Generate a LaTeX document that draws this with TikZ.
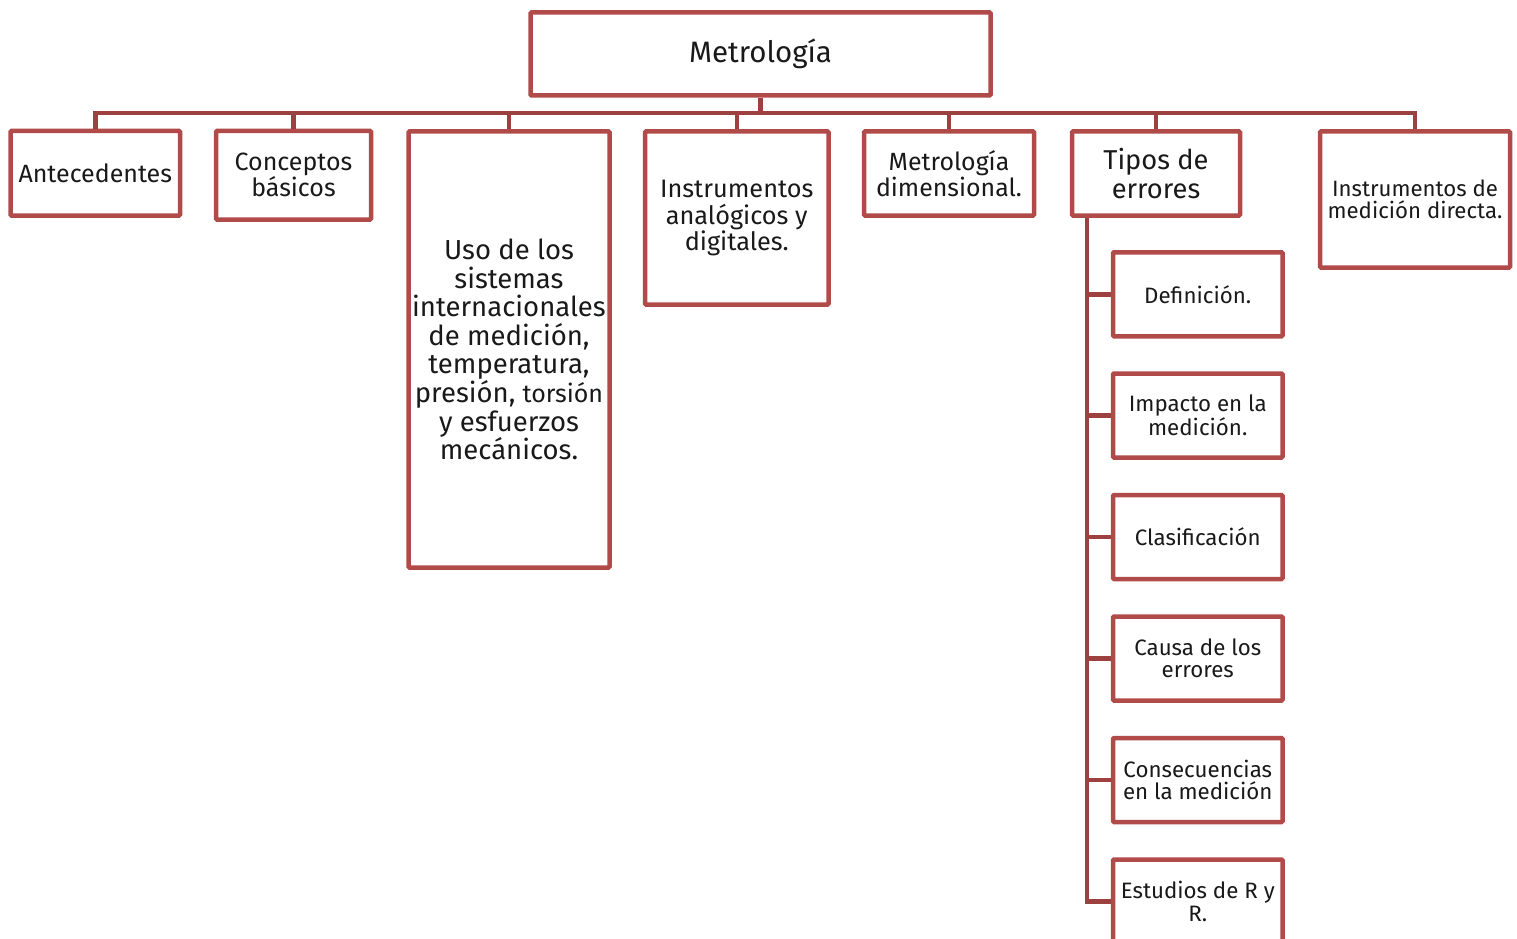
\documentclass[tikz,border=0pt]{standalone}
\usepackage{fontspec}
\setmainfont{Fira Sans}
\definecolor{boxc}{RGB}{176,75,74}
\definecolor{connc}{RGB}{156,64,64}
\newcommand\fz[2]{\fontsize{#1}{#2}\selectfont}
\begin{document}
\begin{tikzpicture}[x=1pt,y=-1pt,
  box/.style={draw=boxc, line width=4.5pt, rounded corners=1pt, fill=white, inner sep=0pt, align=center, text=black!90},
  conn/.style={draw=connc, line width=4.5pt, line join=miter},
  sub/.style={box, minimum width=169.5pt, minimum height=84pt, font=\fz{22.3}{22.5}}]
\useasboundingbox (0,0) rectangle (1517,939);
% top level
\node[box, minimum width=460pt, minimum height=83pt, font=\fz{29.5}{30}] (root) at (760.5,54) {Metrología};
\node[box, minimum width=169.5pt, minimum height=84.5pt, font=\fz{25}{26}] (ante) at (95.25,173.25) {Antecedentes};
\node[box, minimum width=155pt, minimum height=88.5pt, font=\fz{25}{26}] (conc) at (293.5,175.25) {Conceptos\\básicos};
\node[box, minimum width=201pt, minimum height=436pt, font=\fz{27.5}{28.6}] (uso) at (509,349.5) {Uso de los\\sistemas\\internacionales\\de medición,\\temperatura,\\presión, {\fz{25}{28.6}torsión}\\y esfuerzos\\mecánicos.};
\node[box, minimum width=183.5pt, minimum height=173pt, font=\fz{25.3}{26.5}] (inan) at (736.75,218) {Instrumentos\\analógicos y\\digitales.};
\node[box, minimum width=170pt, minimum height=84pt, font=\fz{24.9}{26}] (mdim) at (949,173.5) {Metrología\\dimensional.};
\node[box, minimum width=168pt, minimum height=84pt, font=\fz{27.3}{28.5}] (tipos) at (1156,173.5) {Tipos de\\errores};
\node[box, minimum width=190pt, minimum height=136pt, font=\fz{22.2}{22}] (imd) at (1415,199.5) {Instrumentos de\\medición directa.};
% sub boxes
\node[sub] (s1) at (1197.75,294.25) {Definición.};
\node[sub] (s2) at (1197.75,415.5) {Impacto en la\\medición.};
\node[sub] (s3) at (1197.75,537) {Clasificación};
\node[sub] (s4) at (1197.75,658.5) {Causa de los\\errores};
\node[sub] (s5) at (1197.75,780) {Consecuencias\\en la medición};
\node[sub] (s6) at (1197.75,901.5) {Estudios de R y\\R.};
% connectors
\coordinate (busy) at (0,113);
\draw[conn] (root.south) -- (root.south |- busy);
\draw[conn] (ante.north) -- (ante.north |- busy) -- (imd.north |- busy) -- (imd.north);
\foreach \n in {conc,uso,inan,mdim,tipos}{\draw[conn] (\n.north) -- (\n.north |- busy);}
\coordinate (tv) at ([xshift=-69pt]tipos.south);
\draw[conn] (tv) |- (s6.west);
\foreach \n in {s1,s2,s3,s4,s5}{\draw[conn] (\n.west) -- (\n.west -| tv);}
\end{tikzpicture}
\end{document}
